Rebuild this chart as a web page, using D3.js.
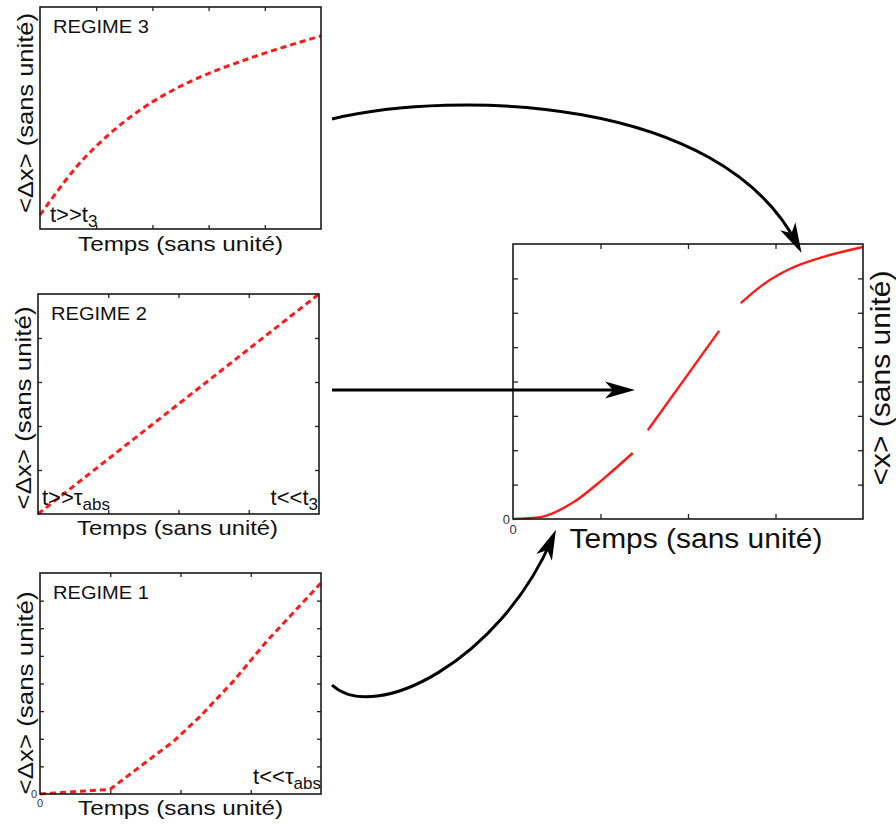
<!DOCTYPE html>
<html>
<head>
<meta charset="utf-8">
<script src="https://cdn.jsdelivr.net/npm/d3@7"></script>
<style>
  body { margin: 0; background: #fff; }
  svg { display: block; font-family: "Liberation Sans", Arial, Helvetica, sans-serif; }
</style>
</head>
<body>
<div id="vis"></div>
<script>

// regime 3 : t >> t3 (saturation)
var regime3T = [0, 0.047, 0.13, 0.249, 0.356, 0.474, 0.593, 0.712, 0.795, 1];
var regime3X = [0.063, 0.145, 0.28, 0.43, 0.536, 0.626, 0.697, 0.754, 0.79, 0.87];

// regime 2 : linear
var regime2T = [0, 1];
var regime2X = [0, 1];

// regime 1 : t << tau_abs
var regime1T = [0, 0.249, 0.356, 0.474, 0.569, 0.688, 0.806, 1];
var regime1X = [0, 0.021, 0.124, 0.237, 0.35, 0.51, 0.69, 0.955];

// full curve <x>(t), three pieces
var fullT1 = [0, 0.078, 0.169, 0.259, 0.342];
var fullX1 = [0, 0.007, 0.058, 0.147, 0.24];
var fullT2 = [0.385, 0.589];
var fullX2 = [0.323, 0.684];
var fullT3 = [0.651, 0.716, 0.792, 0.887, 1];
var fullX3 = [0.785, 0.854, 0.91, 0.953, 0.989];

var xLabel = 'Temps (sans unité)';
var yLabelSmall = '<Δx> (sans unité)';
var yLabelBig = '<x> (sans unité)';

var width = 896;
var height = 828;

var svg = d3.select('#vis').append('svg')
  .attr('width', width)
  .attr('height', height);

function zip(ts, xs) {
  return ts.map(function (t, i) { return [t, xs[i]]; });
}

function drawPanel(p) {
  var x = d3.scaleLinear().domain([0, 1]).range([p.left, p.left + p.w]);
  var y = d3.scaleLinear().domain([0, 1]).range([p.top + p.h, p.top]);

  var g = svg.append('g');

  function ticks(axis, n, transform) {
    if (!n) return;
    var vals = d3.range(1, n).map(function (i) { return i / n; });
    var a = g.append('g')
      .attr('transform', transform)
      .call(axis.tickValues(vals).tickSize(-p.tick).tickFormat(''));
    a.select('.domain').remove();
    a.selectAll('.tick line').attr('stroke', '#222').attr('stroke-width', 1.3);
  }
  ticks(d3.axisBottom(x), p.nx, 'translate(0,' + (p.top + p.h) + ')');
  ticks(d3.axisTop(x), p.nx, 'translate(0,' + p.top + ')');
  ticks(d3.axisLeft(y), p.ny, 'translate(' + p.left + ',0)');
  ticks(d3.axisRight(y), p.ny, 'translate(' + (p.left + p.w) + ',0)');

  var line = d3.line()
    .x(function (d) { return x(d[0]); })
    .y(function (d) { return y(d[1]); })
    .curve(p.curve || d3.curveLinear);

  p.series.forEach(function (s) {
    g.append('path')
      .attr('d', line(s.data))
      .attr('fill', 'none')
      .attr('stroke', '#ff1a1a')
      .attr('stroke-width', p.lineWidth)
      .attr('stroke-dasharray', p.dash || null)
      .attr('stroke-linejoin', 'round')
      .attr('stroke-linecap', 'butt');
  });

  g.append('rect')
    .attr('x', p.left).attr('y', p.top)
    .attr('width', p.w).attr('height', p.h)
    .attr('fill', 'none')
    .attr('stroke', '#1a1a1a')
    .attr('stroke-width', 1.6);

  // axis titles
  g.append('text')
    .attr('x', p.left + p.w / 2 + p.xlDx)
    .attr('y', p.top + p.h + p.xlDy)
    .attr('text-anchor', 'middle')
    .attr('font-size', p.labelSize)
    .attr('textLength', p.xlLen)
    .attr('lengthAdjust', 'spacingAndGlyphs')
    .attr('fill', '#111')
    .text(xLabel);

  g.append('text')
    .attr('transform', 'translate(' + p.ylX + ',' + p.ylY + ') rotate(-90)')
    .attr('text-anchor', 'middle')
    .attr('font-size', p.labelSize + 1)
    .attr('textLength', p.ylLen)
    .attr('lengthAdjust', 'spacingAndGlyphs')
    .attr('fill', '#111')
    .text(p.ylabel);

  if (p.title) {
    g.append('text')
      .attr('x', p.left + 13)
      .attr('y', p.top + 26)
      .attr('font-size', 19)
      .attr('textLength', 96)
      .attr('lengthAdjust', 'spacingAndGlyphs')
      .attr('fill', '#111')
      .text(p.title);
  }

  (p.notes || []).forEach(function (n) {
    var t = g.append('text')
      .attr('x', n.x).attr('y', n.y)
      .attr('text-anchor', n.anchor || 'start')
      .attr('font-size', 22)
      .attr('fill', '#111');
    t.append('tspan').text(n.main);
    t.append('tspan').attr('font-size', 17).attr('dy', 5).text(n.sub);
  });

  if (p.zero) {
    g.append('text')
      .attr('x', p.left - 3).attr('y', p.top + p.h + p.zero * 0.35)
      .attr('text-anchor', 'end')
      .attr('font-size', p.zero).attr('fill', '#333')
      .text('0');
    g.append('text')
      .attr('x', p.left).attr('y', p.top + p.h + p.zero * 1.15)
      .attr('text-anchor', 'middle')
      .attr('font-size', p.zero).attr('fill', '#333')
      .text('0');
  }
}

drawPanel({
  left: 40, top: 7, w: 281, h: 222, nx: 5, ny: 0, tick: 4,
  title: 'REGIME 3', ylabel: yLabelSmall,
  labelSize: 21, xlDx: 0, xlDy: 22, xlLen: 205,
  ylX: 33, ylY: 113, ylLen: 200,
  lineWidth: 3, dash: '6,4', curve: d3.curveMonotoneX,
  series: [{ data: zip(regime3T, regime3X) }],
  notes: [{ x: 50, y: 222, main: 't>>t', sub: '3' }]
});

drawPanel({
  left: 38, top: 294, w: 281, h: 220, nx: 4, ny: 5, tick: 4,
  title: 'REGIME 2', ylabel: yLabelSmall,
  labelSize: 21, xlDx: -1, xlDy: 21, xlLen: 201,
  ylX: 31, ylY: 408, ylLen: 203,
  lineWidth: 3, dash: '6,4',
  series: [{ data: zip(regime2T, regime2X) }],
  notes: [
    { x: 42, y: 505, main: 't>>τ', sub: 'abs' },
    { x: 318, y: 505, main: 't<<t', sub: '3', anchor: 'end' }
  ]
});

drawPanel({
  left: 40, top: 573, w: 281, h: 221, nx: 4, ny: 8, tick: 4,
  title: 'REGIME 1', ylabel: yLabelSmall,
  labelSize: 21, xlDx: 0, xlDy: 21, xlLen: 205,
  ylX: 33, ylY: 693, ylLen: 203,
  lineWidth: 3, dash: '6,4',
  series: [{ data: zip(regime1T, regime1X) }],
  notes: [{ x: 321, y: 784, main: 't<<τ', sub: 'abs', anchor: 'end' }],
  zero: 11
});

drawPanel({
  left: 513, top: 244, w: 350, h: 275, nx: 4, ny: 8, tick: 5,
  ylabel: yLabelBig,
  labelSize: 27, xlDx: 8, xlDy: 29, xlLen: 253,
  ylX: 890, ylY: 378, ylLen: 215,
  lineWidth: 2.4, curve: d3.curveMonotoneX,
  series: [
    { data: zip(fullT1, fullX1) },
    { data: zip(fullT2, fullX2) },
    { data: zip(fullT3, fullX3) }
  ],
  zero: 13
});

// arrows from each regime to the full curve
var arrows = [
  'M332,119 C455,90 720,95 797,244',
  'M332,390 L625,390',
  'M332,685 C375,725 500,660 552,539'
];

svg.append('defs').append('marker')
  .attr('id', 'head')
  .attr('markerUnits', 'userSpaceOnUse')
  .attr('viewBox', '-25 -10 40 20')
  .attr('markerWidth', 40)
  .attr('markerHeight', 20)
  .attr('refX', 0).attr('refY', 0)
  .attr('orient', 'auto')
  .append('path')
  .attr('d', 'M10,0 L-20,-8.5 L-12,0 L-20,8.5 Z')
  .attr('fill', '#000');

svg.selectAll('.arrow')
  .data(arrows)
  .enter().append('path')
  .attr('class', 'arrow')
  .attr('d', function (d) { return d; })
  .attr('fill', 'none')
  .attr('stroke', '#000')
  .attr('stroke-width', 3)
  .attr('marker-end', 'url(#head)');

</script>
</body>
</html>
